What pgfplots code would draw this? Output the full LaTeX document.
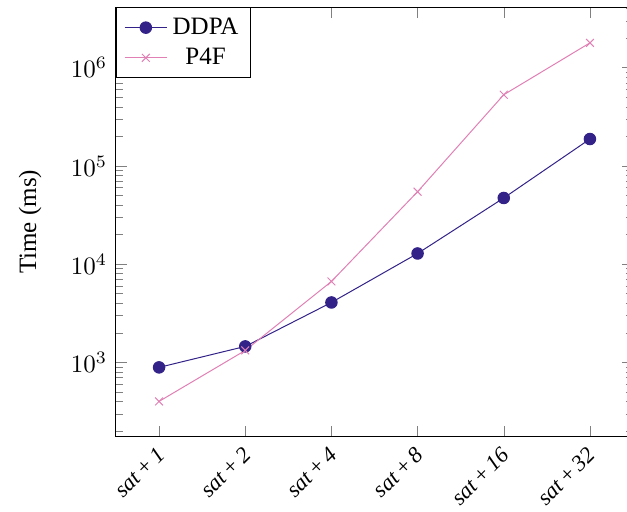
\documentclass[border=0pt]{standalone}
\usepackage{fontspec}
\setmainfont{Liberation Serif}
\usepackage{pgfplots}
\pgfplotsset{compat=1.18}
\definecolor{ddpa}{HTML}{332288}
\definecolor{pfour}{HTML}{E080B4}
\begin{document}
\begin{tikzpicture}
\begin{axis}[
  name=ax,
  scale only axis,
  width=206.8pt, height=171.9pt,
  ymode=log,
  xmin=-0.5, xmax=5.5,
  ymin=175, ymax=4.15e6,
  xtick=data,
  xticklabels={\textit{sat\,+\,1},\textit{sat\,+\,2},\textit{sat\,+\,4},\textit{sat\,+\,8},\textit{sat\,+\,16},\textit{sat\,+\,32}},
  xticklabel style={rotate=45, anchor=east, yshift=-4.5pt, font=\fontsize{9}{11}\selectfont},
  ylabel={Time (ms)},
  ylabel style={at={(axis description cs:-0.166,0.5)}, anchor=center},
  legend style={at={(0,1)}, anchor=north west, draw=black},
  legend cell align=center,
]
\addplot[color=ddpa, mark=*, mark size=2.3pt] coordinates {
  (0,890) (1,1455) (2,4075) (3,12850) (4,47200) (5,188000)
};
\addlegendentry{DDPA}
\addplot[color=pfour, mark=x, mark size=2.2pt] coordinates {
  (0,401) (1,1324) (2,6670) (3,54700) (4,531000) (5,1790000)
};
\addlegendentry{P4F}
\end{axis}
\pgfresetboundingbox
\path[use as bounding box] ([shift={(-46.4pt,-30pt)}]ax.south west) rectangle ([shift={(-2.4pt,2.8pt)}]ax.north east);
\end{tikzpicture}
\end{document}
